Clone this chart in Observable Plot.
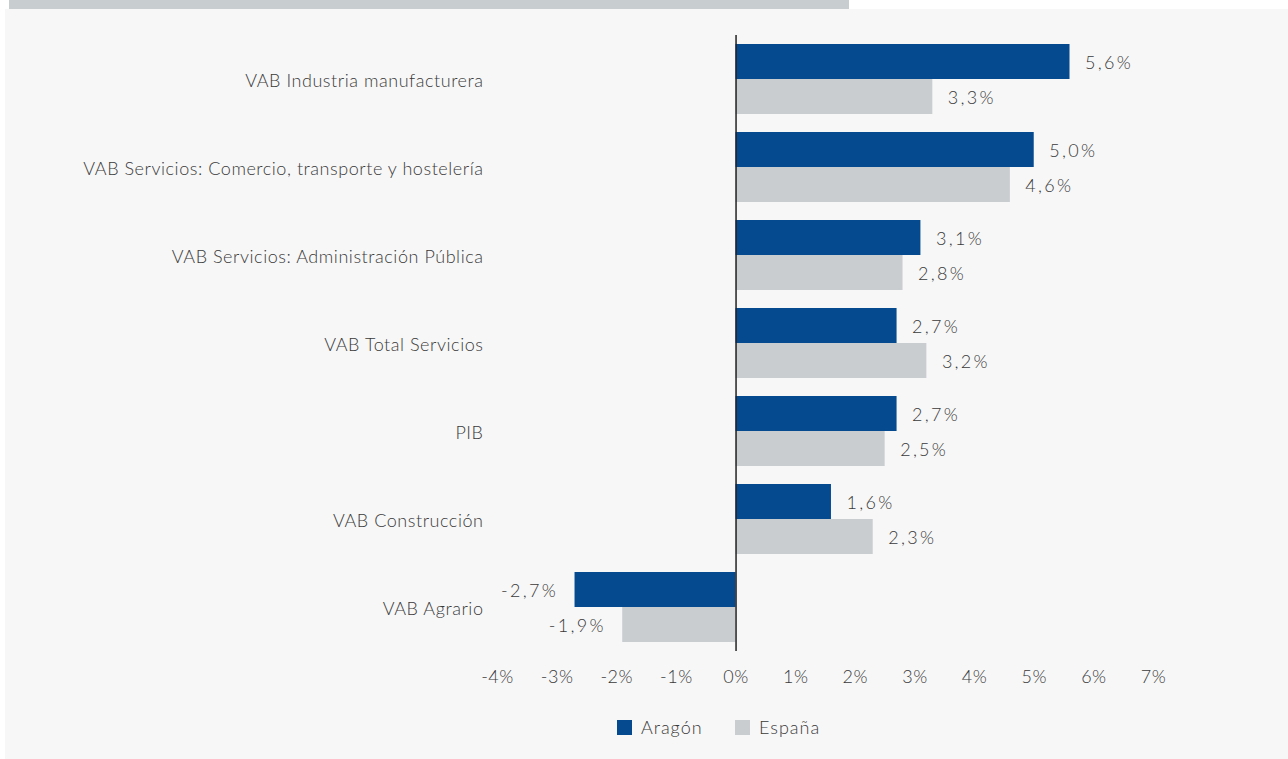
<!DOCTYPE html>
<html>
<head>
<meta charset="utf-8">
<script src="https://cdn.jsdelivr.net/npm/d3@7"></script>
<script src="https://cdn.jsdelivr.net/npm/@observablehq/plot@0.6"></script>
<style>
  html, body { margin: 0; padding: 0; background: #ffffff; width: 1288px; height: 759px; overflow: hidden; }
  #panel { position: absolute; left: 5px; top: 9px; width: 1283px; height: 750px; background: #f7f7f7; }
  #topbar { position: absolute; left: 9px; top: 0px; width: 840px; height: 9px; background: #c8cdd0; }
  #chart { position: absolute; left: 0; top: 0; }
  #chart g[aria-label="y-axis tick label"] text { letter-spacing: 0.55px; }
  #chart g[aria-label="x-axis tick label"] text { letter-spacing: 0.5px; }
  #chart g[aria-label="text"] text { letter-spacing: 2.3px; }
  #legend { position: absolute; left: 0; top: 716px; width: 1288px;
            font-family: Lato, "Open Sans", sans-serif; font-weight: 300; font-size: 18px; letter-spacing: 1px; color: #3a3a3a; }
  .item { position: absolute; display: flex; align-items: center; }
  .sw { width: 15px; height: 15px; margin-right: 9px; }
</style>
</head>
<body>
<div id="topbar"></div>
<div id="panel"></div>
<div id="chart"></div>
<div id="legend"></div>
<script>
const categories = [
  "VAB Industria manufacturera",
  "VAB Servicios: Comercio, transporte y hostelería",
  "VAB Servicios: Administración Pública",
  "VAB Total Servicios",
  "PIB",
  "VAB Construcción",
  "VAB Agrario"
];
const series = ["Aragón", "España"];
const aragon = [5.6, 5.0, 3.1, 2.7, 2.7, 1.6, -2.7];
const espana = [3.3, 4.6, 2.8, 3.2, 2.5, 2.3, -1.9];
const colors = ["#054a8f", "#c9cdd0"];
const xTicks = [-4, -3, -2, -1, 0, 1, 2, 3, 4, 5, 6, 7];

const rowsA = categories.map((c, i) => ({cat: c, v: aragon[i]}));
const rowsE = categories.map((c, i) => ({cat: c, v: espana[i]}));
const fmt = v => (v < 0 ? "-" : "") + Math.abs(v).toFixed(1).replace(".", ",") + "%";
const font = "Lato, 'Open Sans', sans-serif";
const txt = "#3a3a3a";

function labels(rows, dy) {
  const common = {x: "v", y: "cat", text: d => fmt(d.v), dy, fill: txt, fontSize: 18, fontWeight: 300};
  return [
    Plot.text(rows.filter(d => d.v >= 0), {...common, dx: 15, textAnchor: "start"}),
    Plot.text(rows.filter(d => d.v < 0), {...common, dx: -17, textAnchor: "end"})
  ];
}

const chart = Plot.plot({
  width: 1288,
  height: 700,
  marginTop: 35,
  marginBottom: 49,
  marginLeft: 497,
  marginRight: 135,
  style: {background: "transparent", fontFamily: font, fontSize: "18px", color: txt, fontWeight: 300},
  x: {domain: [-4, 7], ticks: xTicks, label: null},
  y: {domain: categories, padding: 0, label: null},
  marks: [
    Plot.barX(rowsA, {x: "v", y: "cat", fill: colors[0], insetTop: 9, insetBottom: 44}),
    Plot.barX(rowsE, {x: "v", y: "cat", fill: colors[1], insetTop: 44, insetBottom: 9}),
    Plot.ruleX([0], {stroke: "#222", strokeWidth: 1.5}),
    ...labels(rowsA, -16),
    ...labels(rowsE, 19),
    Plot.axisY({tickSize: 0, tickPadding: 14, fontSize: 18, fontWeight: 300, dy: 2, fill: txt}),
    Plot.axisX({ticks: xTicks, tickSize: 0, tickPadding: 19, tickFormat: d => (d < 0 ? "-" + Math.abs(d) : d) + "%",
      fontSize: 18, fontWeight: 300, fill: txt})
  ]
});
document.getElementById("chart").appendChild(chart);

const legend = document.getElementById("legend");
const lx = [617, 735];
series.forEach((s, i) => {
  const it = document.createElement("div");
  it.className = "item";
  it.style.left = lx[i] + "px";
  const sw = document.createElement("div");
  sw.className = "sw";
  sw.style.background = colors[i];
  const t = document.createElement("span");
  t.textContent = s;
  it.appendChild(sw); it.appendChild(t);
  legend.appendChild(it);
});
</script>
</body>
</html>
